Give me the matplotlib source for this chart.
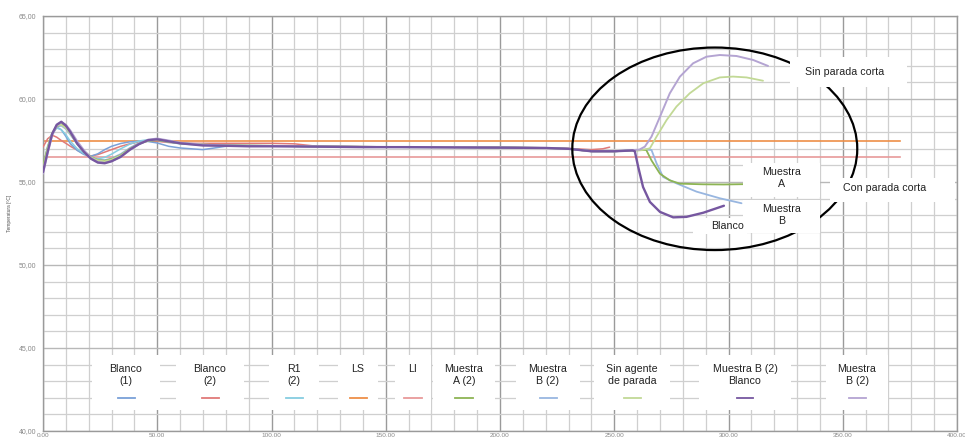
import numpy as np
import matplotlib
matplotlib.use("Agg")
import matplotlib.pyplot as plt
from matplotlib.patches import Ellipse, Rectangle
from matplotlib.ticker import MultipleLocator, FuncFormatter

plt.rcParams['font.family'] = ['Liberation Sans', 'DejaVu Sans']

# ---------------- data ----------------
time_common = [0, 2, 4, 6, 8, 10, 12, 15, 18, 21, 24, 27, 30, 34, 38, 42, 46, 50, 55, 60,
               70, 80, 90, 100, 110, 120, 140, 160, 180, 200, 220, 230, 240]

blanco1_temp = [55.8, 57.0, 57.95, 58.3, 58.15, 57.75, 57.3, 56.9, 56.65, 56.55, 56.7, 56.95, 57.15, 57.32,
                57.42, 57.46, 57.44, 57.35, 57.15, 57.05, 56.95, 57.15, 57.18, 57.18, 57.17, 57.15, 57.12,
                57.1, 57.1, 57.08, 57.05, 57.0, 56.88]
blanco1_tail_t = [250, 256]
blanco1_tail_v = [56.85, 56.9]

blanco2_temp = [57.1, 57.6, 57.82, 57.7, 57.5, 57.33, 57.15, 56.92, 56.68, 56.57, 56.65, 56.8, 56.95, 57.15,
                57.3, 57.42, 57.47, 57.45, 57.38, 57.33, 57.33, 57.33, 57.33, 57.33, 57.3, 57.15, 57.13,
                57.1, 57.1, 57.08, 57.05, 57.02, 56.95]
blanco2_tail_t = [245, 248]
blanco2_tail_v = [57.0, 57.1]

r1_temp = [55.9, 57.15, 57.95, 58.25, 58.15, 57.85, 57.45, 57.0, 56.7, 56.48, 56.4, 56.48, 56.68, 57.0,
           57.28, 57.47, 57.55, 57.52, 57.4, 57.3, 57.22, 57.2, 57.18, 57.17, 57.15, 57.13, 57.12,
           57.1, 57.1, 57.08, 57.05, 57.0, 56.88]
r1_tail_t = [250, 256]
r1_tail_v = [56.85, 56.9]

ls_value = 57.5
li_value = 56.5
limit_time = [0, 375]

muestra_a_temp = [56.0, 57.05, 57.9, 58.35, 58.5, 58.3, 57.95, 57.35, 56.85, 56.5, 56.32, 56.28, 56.38, 56.62,
                  57.0, 57.3, 57.48, 57.52, 57.43, 57.33, 57.25, 57.22, 57.2, 57.18, 57.17, 57.15, 57.12,
                  57.1, 57.1, 57.08, 57.05, 57.0, 56.85]
muestra_a_tail_t = [250, 258, 264, 266.3, 270, 274.3, 278.7, 288.9, 298, 307]
muestra_a_tail_v = [56.85, 56.9, 56.93, 56.3, 55.5, 55.1, 54.9, 54.86, 54.85, 54.87]

muestra_b_temp = [55.7, 56.9, 57.85, 58.3, 58.4, 58.2, 57.85, 57.3, 56.85, 56.5, 56.35, 56.32, 56.42, 56.68,
                  57.05, 57.35, 57.5, 57.55, 57.45, 57.35, 57.25, 57.2, 57.18, 57.17, 57.16, 57.14, 57.12,
                  57.1, 57.1, 57.08, 57.05, 57.0, 56.85]
muestra_b_tail_t = [250, 258, 264, 266.3, 268.5, 271.4, 277.2, 286, 296.2, 305.7]
muestra_b_tail_v = [56.85, 56.9, 56.95, 56.93, 56.13, 55.3, 54.92, 54.42, 54.02, 53.72]

sin_agente_temp = [55.8, 57.0, 57.95, 58.4, 58.45, 58.25, 57.9, 57.3, 56.8, 56.48, 56.3, 56.25, 56.35, 56.6,
                   56.98, 57.3, 57.5, 57.55, 57.45, 57.35, 57.25, 57.2, 57.18, 57.17, 57.16, 57.14, 57.12,
                   57.1, 57.1, 57.08, 57.05, 57.0, 56.85]
sin_agente_tail_t = [250, 258, 262, 265.6, 268.5, 272.9, 277.2, 283, 289, 296.2, 302, 307.9, 315.1]
sin_agente_tail_v = [56.85, 56.9, 56.92, 57.03, 57.73, 58.73, 59.54, 60.34, 60.95, 61.3, 61.35, 61.3, 61.1]

mb_blanco_temp = [55.6, 56.8, 57.9, 58.45, 58.63, 58.4, 58.0, 57.3, 56.8, 56.4, 56.17, 56.13, 56.25, 56.52,
                  56.95, 57.28, 57.52, 57.57, 57.45, 57.33, 57.2, 57.18, 57.15, 57.15, 57.14, 57.13, 57.1,
                  57.1, 57.08, 57.07, 57.05, 57.0, 56.85]
mb_blanco_tail_t = [250, 258, 259, 260.5, 262.6, 265.6, 270, 275.8, 281.6, 289, 298]
mb_blanco_tail_v = [56.85, 56.9, 56.85, 55.9, 54.7, 53.8, 53.2, 52.87, 52.9, 53.15, 53.57]

mb2_temp = [55.5, 56.7, 57.8, 58.4, 58.6, 58.45, 58.1, 57.45, 56.9, 56.45, 56.2, 56.15, 56.25, 56.5,
            56.92, 57.28, 57.55, 57.62, 57.5, 57.37, 57.25, 57.2, 57.18, 57.17, 57.16, 57.14, 57.12,
            57.1, 57.1, 57.08, 57.05, 57.0, 56.85]
mb2_tail_t = [250, 258, 261, 263.4, 266.3, 270, 274.3, 278.7, 284.5, 290.4, 296.2, 303.5, 310.8, 317.3]
mb2_tail_v = [56.85, 56.92, 56.95, 57.13, 57.73, 58.93, 60.34, 61.34, 62.15, 62.55, 62.65, 62.59, 62.35, 61.99]

legend_labels = ["Blanco\n(1)", "Blanco\n(2)", "R1\n(2)", "LS", "LI", "Muestra\nA (2)",
                 "Muestra\nB (2)", "Sin agente\nde parada", "Muestra B (2)\nBlanco", "Muestra\nB (2)"]

# ---------------- styles ----------------
colors = {
    "blanco1": "#7aa0d8", "blanco2": "#e07a78", "r1": "#86cde0", "ls": "#ee8f48", "li": "#e89a9a",
    "muestra_a": "#8db454", "muestra_b": "#98b6e0", "sin_agente": "#c2d996", "mb_blanco": "#7657a0",
    "mb2": "#b4a4d2",
}

fig = plt.figure(figsize=(9.65, 4.41), dpi=100)
ax = fig.add_axes([43 / 965, 10 / 441, 914 / 965, 415 / 441])
ax.set_xlim(0, 400)
ax.set_ylim(40, 65)

ax.xaxis.set_major_locator(MultipleLocator(50))
ax.xaxis.set_minor_locator(MultipleLocator(10))
ax.yaxis.set_major_locator(MultipleLocator(5))
ax.yaxis.set_minor_locator(MultipleLocator(1))
ax.grid(which='minor', color='#cfcfcf', lw=0.9, zorder=0)
ax.grid(which='major', axis='x', color='#9a9a9a', lw=1.0, zorder=0)
ax.grid(which='major', axis='y', color='#b8b8b8', lw=1.0, zorder=0)
ax.set_axisbelow(True)
ax.tick_params(which='both', length=0)
ax.tick_params(axis='y', labelsize=5, labelcolor='#888888', pad=5)
ax.tick_params(axis='x', labelsize=4.6, labelcolor='#888888', pad=1.5)
ax.xaxis.set_major_formatter(FuncFormatter(lambda v, p: f"{v:.2f}"))
ax.yaxis.set_major_formatter(FuncFormatter(lambda v, p: f"{v:.2f}".replace('.', ',')))
for s in ax.spines.values():
    s.set_color('#9a9a9a')
    s.set_linewidth(1.0)
ax.set_ylabel("Temperatura [ºC]", fontsize=3.5, color='#555555')
ax.yaxis.set_label_coords(-0.034, 0.525)

# limit lines
ax.plot(limit_time, [ls_value, ls_value], color=colors["ls"], lw=1.2, zorder=2)
ax.plot(limit_time, [li_value, li_value], color=colors["li"], lw=1.2, zorder=2)

series = [
    ("blanco2", blanco2_temp, blanco2_tail_t, blanco2_tail_v, 1.1),
    ("blanco1", blanco1_temp, blanco1_tail_t, blanco1_tail_v, 1.1),
    ("r1", r1_temp, r1_tail_t, r1_tail_v, 1.1),
    ("muestra_b", muestra_b_temp, muestra_b_tail_t, muestra_b_tail_v, 1.3),
    ("muestra_a", muestra_a_temp, muestra_a_tail_t, muestra_a_tail_v, 1.3),
    ("sin_agente", sin_agente_temp, sin_agente_tail_t, sin_agente_tail_v, 1.3),
    ("mb2", mb2_temp, mb2_tail_t, mb2_tail_v, 1.4),
    ("mb_blanco", mb_blanco_temp, mb_blanco_tail_t, mb_blanco_tail_v, 1.7),
]
for key, temp, tt, tv, lw in series:
    ax.plot(list(time_common) + list(tt), list(temp) + list(tv), color=colors[key], lw=lw, zorder=3,
            solid_capstyle='round')

# ellipse annotation
ax.add_patch(Ellipse((294, 57.0), 124.7, 12.2, fill=False, edgecolor='black', lw=1.6, zorder=4))

# annotation boxes (white) and texts
annot_boxes = [  # (x0, x1, y0, y1) in data units
    (326.8, 378.0, 60.72, 62.53),
    (306.3, 339.9, 54.10, 56.14),
    (306.3, 339.9, 51.93, 53.92),
    (344.3, 399.0, 53.80, 55.24),
    (284.4, 308.0, 51.87, 52.83),
]
for x0, x1, y0, y1 in annot_boxes:
    ax.add_patch(Rectangle((x0, y0), x1 - x0, y1 - y0, facecolor='white', edgecolor='none', zorder=5))

tkw = dict(ha='center', va='center', fontsize=7.7, color='#222222', zorder=6, linespacing=1.15)
ax.text(350.9, 61.63, "Sin parada corta", **tkw)
ax.text(368.4, 54.64, "Con parada corta", **tkw)
ax.text(323.3, 55.24, "Muestra\nA", **tkw)
ax.text(323.3, 53.01, "Muestra\nB", **tkw)
ax.text(299.7, 52.35, "Blanco", **tkw)

# custom legend: text above a short line sample
legend_keys = ["blanco1", "blanco2", "r1", "ls", "li", "muestra_a", "muestra_b", "sin_agente",
               "mb_blanco", "mb2"]
legend_px = [126, 210, 294, 358, 413, 464, 548, 632, 745, 857]
legend_w = [68, 68, 50, 40, 36, 62, 64, 76, 92, 62]
for key, lab, px, w in zip(legend_keys, legend_labels, legend_px, legend_w):
    xf = (px - 43) / 914
    ax.add_patch(Rectangle((xf - w / 2 / 914, (431 - 410) / 415), w / 914, 55 / 415,
                           transform=ax.transAxes, facecolor='white', edgecolor='none', zorder=5))
    ax.text(xf, (431 - 364) / 415, lab, transform=ax.transAxes, ha='center', va='top', fontsize=7.7,
            color='#222222', linespacing=1.2, zorder=6)
    ax.plot([xf - 8.5 / 914, xf + 8.5 / 914], [(431 - 398) / 415] * 2, transform=ax.transAxes,
            color=colors[key], lw=1.3, zorder=6)

fig.savefig("out.png", dpi=100, facecolor='white')
